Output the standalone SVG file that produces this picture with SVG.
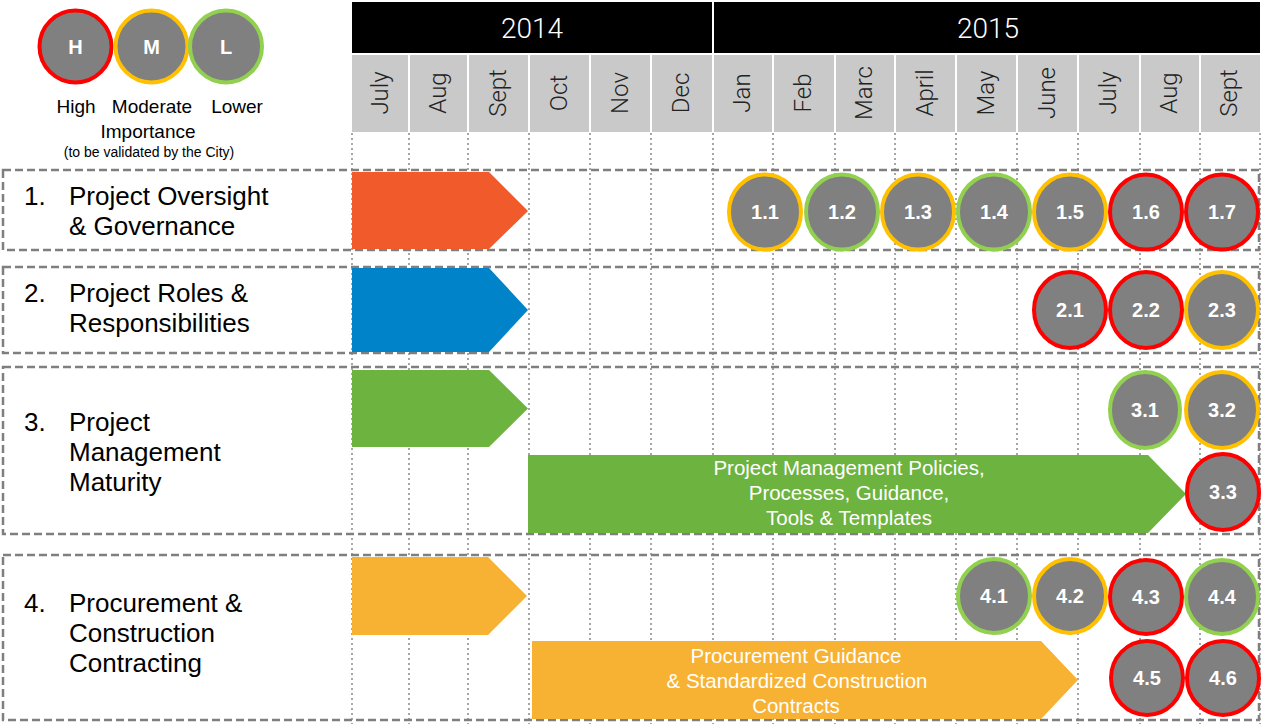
<svg xmlns="http://www.w3.org/2000/svg" width="1262" height="724" viewBox="0 0 1262 724">
<style>
.yr{font-family:Roboto,"Liberation Sans",sans-serif;font-weight:300;font-size:28px;fill:#fff;text-anchor:middle}
.mo{font-family:Roboto,"Liberation Sans",sans-serif;font-weight:300;font-size:24px;fill:#222;text-anchor:middle}
.lbl{font-family:"Liberation Sans",Arial,sans-serif;font-size:26px;fill:#000}
.leg{font-family:"Liberation Sans",Arial,sans-serif;font-size:19px;fill:#000;text-anchor:middle}
.legs{font-family:"Liberation Sans",Arial,sans-serif;font-size:14px;fill:#000;text-anchor:middle}
.bt{font-family:"Liberation Sans",Arial,sans-serif;font-size:20.5px;fill:#fff;text-anchor:middle}
.ct{font-family:"Liberation Sans",Arial,sans-serif;font-size:20px;font-weight:bold;fill:#fff;text-anchor:middle}
.lt{font-family:"Liberation Sans",Arial,sans-serif;font-size:20px;font-weight:bold;fill:#fff;text-anchor:middle}
.c{fill:#808080;stroke-width:4}
.H{stroke:#FF0000}.M{stroke:#FFC000}.L{stroke:#92D050}
.box{fill:none;stroke:#7F7F7F;stroke-width:2.5;stroke-dasharray:8 4}
.grid{stroke:#A6A6A6;stroke-width:2;stroke-dasharray:2 3}
.mh{fill:#C9C9C9}
</style>

<g id="header">
<rect x="352" y="2" width="360" height="51" fill="#000"/>
<rect x="714" y="2" width="546" height="51" fill="#000"/>
<text class="yr" x="532" y="38">2014</text>
<text class="yr" x="988" y="38">2015</text>
<rect class="mh" x="352" y="55" width="56" height="77"/>
<rect class="mh" x="410" y="55" width="57" height="77"/>
<rect class="mh" x="469" y="55" width="59" height="77"/>
<rect class="mh" x="530" y="55" width="59" height="77"/>
<rect class="mh" x="591" y="55" width="59" height="77"/>
<rect class="mh" x="652" y="55" width="60" height="77"/>
<rect class="mh" x="714" y="55" width="58" height="77"/>
<rect class="mh" x="774" y="55" width="60" height="77"/>
<rect class="mh" x="836" y="55" width="58" height="77"/>
<rect class="mh" x="896" y="55" width="59" height="77"/>
<rect class="mh" x="957" y="55" width="59" height="77"/>
<rect class="mh" x="1018" y="55" width="59" height="77"/>
<rect class="mh" x="1079" y="55" width="60" height="77"/>
<rect class="mh" x="1141" y="55" width="58" height="77"/>
<rect class="mh" x="1201" y="55" width="59" height="77"/>
<text class="mo" transform="translate(380.5,93) rotate(-90)" y="7">July</text>
<text class="mo" transform="translate(438.5,93) rotate(-90)" y="7">Aug</text>
<text class="mo" transform="translate(498.5,93) rotate(-90)" y="7">Sept</text>
<text class="mo" transform="translate(559.5,93) rotate(-90)" y="7">Oct</text>
<text class="mo" transform="translate(620.5,93) rotate(-90)" y="7">Nov</text>
<text class="mo" transform="translate(682,93) rotate(-90)" y="7">Dec</text>
<text class="mo" transform="translate(743,93) rotate(-90)" y="7">Jan</text>
<text class="mo" transform="translate(804,93) rotate(-90)" y="7">Feb</text>
<text class="mo" transform="translate(865,93) rotate(-90)" y="7">Marc</text>
<text class="mo" transform="translate(925.5,93) rotate(-90)" y="7">April</text>
<text class="mo" transform="translate(986.5,93) rotate(-90)" y="7">May</text>
<text class="mo" transform="translate(1047.5,93) rotate(-90)" y="7">June</text>
<text class="mo" transform="translate(1109,93) rotate(-90)" y="7">July</text>
<text class="mo" transform="translate(1170,93) rotate(-90)" y="7">Aug</text>
<text class="mo" transform="translate(1230,93) rotate(-90)" y="7">Sept</text>
</g>

<g id="grid">
<line class="grid" x1="352" y1="133" x2="352" y2="724"/>
<line class="grid" x1="409" y1="133" x2="409" y2="724"/>
<line class="grid" x1="468" y1="133" x2="468" y2="724"/>
<line class="grid" x1="529" y1="133" x2="529" y2="724"/>
<line class="grid" x1="590" y1="133" x2="590" y2="724"/>
<line class="grid" x1="651" y1="133" x2="651" y2="724"/>
<line class="grid" x1="713" y1="133" x2="713" y2="724"/>
<line class="grid" x1="773" y1="133" x2="773" y2="724"/>
<line class="grid" x1="835" y1="133" x2="835" y2="724"/>
<line class="grid" x1="895" y1="133" x2="895" y2="724"/>
<line class="grid" x1="956" y1="133" x2="956" y2="724"/>
<line class="grid" x1="1017" y1="133" x2="1017" y2="724"/>
<line class="grid" x1="1078" y1="133" x2="1078" y2="724"/>
<line class="grid" x1="1140" y1="133" x2="1140" y2="724"/>
<line class="grid" x1="1200" y1="133" x2="1200" y2="724"/>
<line class="grid" x1="1260" y1="133" x2="1260" y2="724"/>
</g>

<g id="legend">
<circle class="c H" cx="75.5" cy="46.5" r="36"/>
<circle class="c M" cx="151.5" cy="46.5" r="36"/>
<circle class="c L" cx="226" cy="46.5" r="36"/>
<text class="lt" x="75.5" y="54">H</text>
<text class="lt" x="151.5" y="54">M</text>
<text class="lt" x="226" y="54">L</text>
<text class="leg" x="76" y="113">High</text>
<text class="leg" x="152" y="113">Moderate</text>
<text class="leg" x="237" y="113">Lower</text>
<text class="leg" x="148" y="138">Importance</text>
<text class="legs" x="149" y="157">(to be validated by the City)</text>
</g>

<g id="row1">
<rect class="box" x="3" y="170" width="1256" height="80"/>
<text class="lbl" x="24" y="205">1.</text>
<text class="lbl" x="69" y="205">Project Oversight</text>
<text class="lbl" x="69" y="235">&amp; Governance</text>
<polygon points="352,172 489,172 528,211 489,249 352,249" fill="#F15A2B"/>
<g id="c1-1"><ellipse class="c M" cx="765" cy="212" rx="36" ry="37.5"/><text class="ct" x="765" y="219">1.1</text></g>
<g id="c1-2"><ellipse class="c L" cx="842" cy="212" rx="36" ry="37.5"/><text class="ct" x="842" y="219">1.2</text></g>
<g id="c1-3"><ellipse class="c M" cx="918" cy="212" rx="36" ry="37.5"/><text class="ct" x="918" y="219">1.3</text></g>
<g id="c1-4"><ellipse class="c L" cx="994" cy="212" rx="36" ry="37.5"/><text class="ct" x="994" y="219">1.4</text></g>
<g id="c1-5"><ellipse class="c M" cx="1070" cy="212" rx="36" ry="37.5"/><text class="ct" x="1070" y="219">1.5</text></g>
<g id="c1-6"><ellipse class="c H" cx="1146" cy="212" rx="36" ry="37.5"/><text class="ct" x="1146" y="219">1.6</text></g>
<g id="c1-7"><ellipse class="c H" cx="1222" cy="212" rx="36" ry="37.5"/><text class="ct" x="1222" y="219">1.7</text></g>
</g>

<g id="row2">
<rect class="box" x="3" y="267" width="1256" height="86"/>
<text class="lbl" x="24" y="302">2.</text>
<text class="lbl" x="69" y="302">Project Roles &amp;</text>
<text class="lbl" x="69" y="332">Responsibilities</text>
<polygon points="352,268 489,268 528,310 489,352 352,352" fill="#0083C9"/>
<g id="c2-1"><ellipse class="c H" cx="1070" cy="310" rx="36" ry="38"/><text class="ct" x="1070" y="317">2.1</text></g>
<g id="c2-2"><ellipse class="c H" cx="1146" cy="310" rx="36" ry="38"/><text class="ct" x="1146" y="317">2.2</text></g>
<g id="c2-3"><ellipse class="c M" cx="1222" cy="310" rx="36" ry="38"/><text class="ct" x="1222" y="317">2.3</text></g>
</g>

<g id="row3">
<rect class="box" x="3" y="367" width="1256" height="167"/>
<text class="lbl" x="24" y="431">3.</text>
<text class="lbl" x="69" y="431">Project</text>
<text class="lbl" x="69" y="461">Management</text>
<text class="lbl" x="69" y="491">Maturity</text>
<polygon points="352,370 489,370 528,408.5 489,447 352,447" fill="#6DB33F"/>
<polygon points="528,455 1148,455 1186,494 1148,533 528,533" fill="#6DB33F"/>
<text class="bt" x="849" y="475">Project Management Policies,</text>
<text class="bt" x="849" y="500">Processes, Guidance,</text>
<text class="bt" x="849" y="525">Tools &amp; Templates</text>
<g id="c3-1"><ellipse class="c L" cx="1145" cy="410" rx="35" ry="38"/><text class="ct" x="1145" y="417">3.1</text></g>
<g id="c3-2"><ellipse class="c M" cx="1222" cy="410" rx="36" ry="38"/><text class="ct" x="1222" y="417">3.2</text></g>
<g id="c3-3"><ellipse class="c H" cx="1223" cy="492" rx="36" ry="38"/><text class="ct" x="1223" y="499">3.3</text></g>
</g>

<g id="row4">
<rect class="box" x="3" y="555" width="1256" height="165"/>
<text class="lbl" x="24" y="612">4.</text>
<text class="lbl" x="69" y="612">Procurement &amp;</text>
<text class="lbl" x="69" y="642">Construction</text>
<text class="lbl" x="69" y="672">Contracting</text>
<polygon points="352,557 488,557 527,596 488,635 352,635" fill="#F7B233"/>
<polygon points="532,641 1041,641 1078,680 1041,719 532,719" fill="#F7B233"/>
<text class="bt" x="796" y="663">Procurement Guidance</text>
<text class="bt" x="797" y="688">&amp; Standardized Construction</text>
<text class="bt" x="796" y="713">Contracts</text>
<g id="c4-1"><ellipse class="c L" cx="994" cy="596" rx="36" ry="37"/><text class="ct" x="994" y="603">4.1</text></g>
<g id="c4-2"><ellipse class="c M" cx="1070" cy="596" rx="36" ry="37"/><text class="ct" x="1070" y="603">4.2</text></g>
<g id="c4-3"><ellipse class="c H" cx="1146" cy="597" rx="36" ry="37"/><text class="ct" x="1146" y="604">4.3</text></g>
<g id="c4-4"><ellipse class="c L" cx="1222" cy="597" rx="36" ry="37"/><text class="ct" x="1222" y="604">4.4</text></g>
<g id="c4-5"><ellipse class="c H" cx="1147" cy="678" rx="36" ry="37"/><text class="ct" x="1147" y="685">4.5</text></g>
<g id="c4-6"><ellipse class="c H" cx="1223" cy="678" rx="36" ry="37"/><text class="ct" x="1223" y="685">4.6</text></g>
</g>

<g id="connectors"/>
</svg>
